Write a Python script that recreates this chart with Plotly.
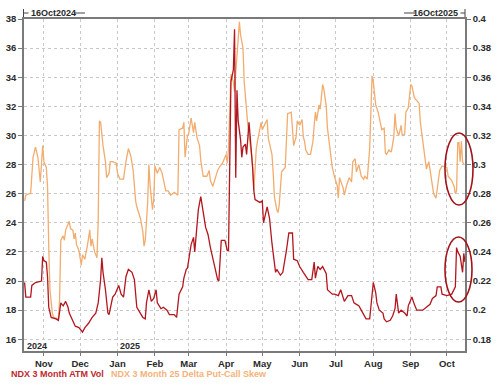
import plotly.graph_objects as go

# ---------------- data ----------------
vol_dates = [
    "2024-10-16", "2024-10-17", "2024-10-21", "2024-10-22", "2024-10-25", "2024-10-29", "2024-10-30",
    "2024-10-31", "2024-11-01", "2024-11-03", "2024-11-04", "2024-11-05", "2024-11-07", "2024-11-11",
    "2024-11-13", "2024-11-15", "2024-11-17", "2024-11-19", "2024-11-21", "2024-11-22", "2024-11-25",
    "2024-11-27", "2024-11-30", "2024-12-03", "2024-12-05", "2024-12-08", "2024-12-11", "2024-12-14",
    "2024-12-16", "2024-12-18", "2024-12-19", "2024-12-20", "2024-12-22", "2024-12-24", "2024-12-25",
    "2024-12-28", "2024-12-30", "2025-01-02", "2025-01-04", "2025-01-06", "2025-01-08", "2025-01-10",
    "2025-01-13", "2025-01-15", "2025-01-17", "2025-01-19", "2025-01-22", "2025-01-24", "2025-01-25",
    "2025-01-27", "2025-01-29", "2025-01-31", "2025-02-02", "2025-02-03", "2025-02-06", "2025-02-08",
    "2025-02-11", "2025-02-13", "2025-02-17", "2025-02-19", "2025-02-21", "2025-02-24", "2025-02-25",
    "2025-02-27", "2025-02-28", "2025-03-03", "2025-03-05", "2025-03-06", "2025-03-08", "2025-03-09",
    "2025-03-11", "2025-03-12", "2025-03-13", "2025-03-15", "2025-03-17", "2025-03-18", "2025-03-19",
    "2025-03-22", "2025-03-25", "2025-03-26", "2025-03-28", "2025-03-31", "2025-04-02", "2025-04-03",
    "2025-04-04", "2025-04-05", "2025-04-07", "2025-04-08", "2025-04-09", "2025-04-10", "2025-04-11",
    "2025-04-13", "2025-04-14", "2025-04-15", "2025-04-17", "2025-04-18", "2025-04-20", "2025-04-21",
    "2025-04-23", "2025-04-24", "2025-04-25", "2025-04-29", "2025-05-01", "2025-05-02", "2025-05-05",
    "2025-05-07", "2025-05-09", "2025-05-12", "2025-05-13", "2025-05-16", "2025-05-18", "2025-05-21",
    "2025-05-23", "2025-05-26", "2025-05-27", "2025-05-30", "2025-06-01", "2025-06-04", "2025-06-08",
    "2025-06-11", "2025-06-13", "2025-06-14", "2025-06-16", "2025-06-18", "2025-06-20", "2025-06-23",
    "2025-06-24", "2025-06-28", "2025-06-30", "2025-07-03", "2025-07-05", "2025-07-08", "2025-07-11",
    "2025-07-14", "2025-07-16", "2025-07-18", "2025-07-20", "2025-07-22", "2025-07-24", "2025-07-26",
    "2025-07-29", "2025-08-01", "2025-08-03", "2025-08-04", "2025-08-06", "2025-08-09", "2025-08-10",
    "2025-08-12", "2025-08-15", "2025-08-17", "2025-08-19", "2025-08-20", "2025-08-22", "2025-08-24",
    "2025-08-27", "2025-08-29", "2025-08-30", "2025-09-02", "2025-09-04", "2025-09-06", "2025-09-09",
    "2025-09-11", "2025-09-14", "2025-09-17", "2025-09-19", "2025-09-22", "2025-09-23", "2025-09-26",
    "2025-09-27", "2025-10-01", "2025-10-05", "2025-10-07", "2025-10-08", "2025-10-09", "2025-10-10",
    "2025-10-12", "2025-10-14", "2025-10-15", "2025-10-16",
]
vol_values = [
    19.9, 18.9, 18.9, 19.7, 19.9, 20.0, 20.0,
    21.7, 21.4, 21.3, 20.3, 18.2, 17.5, 17.4,
    17.3, 18.5, 18.3, 18.6, 18.2, 17.8, 17.3,
    16.9, 16.8, 16.5, 16.8, 17.1, 17.5, 17.8,
    18.5, 20.1, 21.6, 20.6, 19.4, 17.8, 17.7,
    18.9, 19.1, 19.7, 19.1, 18.9, 20.3, 20.8,
    20.6, 20.1, 18.2, 17.9, 17.5, 17.4, 18.5,
    19.4, 18.6, 18.8, 19.4, 18.5, 18.1, 18.2,
    18.0, 17.7, 17.7, 17.5, 19.1, 19.6, 20.2,
    20.8, 20.9, 22.5, 23.0, 22.0, 24.2, 24.9,
    25.8, 25.3, 24.9, 23.7, 23.2, 22.6, 22.3,
    21.2, 20.1, 20.0, 22.8, 22.8, 22.1, 22.1,
    30.2, 33.7, 34.5, 37.3, 27.1, 33.1, 31.0,
    29.7, 28.5, 29.2, 29.4, 28.7, 30.9, 30.0,
    27.8, 26.2, 25.6, 25.4, 25.5, 24.0, 25.1,
    24.3, 22.6, 20.6, 20.8, 20.4, 20.6, 22.1,
    23.3, 23.3, 21.5, 21.4, 21.0, 20.6, 20.1,
    20.1, 21.3, 20.2, 21.0, 20.8, 21.0, 20.5,
    19.4, 19.1, 19.1, 19.0, 19.4, 18.6, 19.0,
    19.0, 18.5, 18.4, 18.3, 18.0, 17.7, 17.4,
    17.4, 19.9, 19.2, 18.5, 18.0, 17.8, 17.4,
    17.2, 17.3, 17.6, 18.1, 19.1, 17.8, 18.0,
    17.8, 17.6, 18.3, 18.9, 18.4, 18.0, 18.0,
    18.0, 18.2, 18.4, 18.8, 19.0, 19.6, 19.6,
    19.1, 19.0, 19.1, 19.4, 19.6, 22.3, 22.0,
    21.7, 20.6, 21.9, 21.3,
]

skew_dates = [
    "2024-10-16", "2024-10-17", "2024-10-20", "2024-10-21", "2024-10-23", "2024-10-25", "2024-10-27",
    "2024-10-29", "2024-10-31", "2024-11-01", "2024-11-03", "2024-11-04", "2024-11-05", "2024-11-06",
    "2024-11-08", "2024-11-09", "2024-11-13", "2024-11-14", "2024-11-15", "2024-11-17", "2024-11-18",
    "2024-11-19", "2024-11-22", "2024-11-23", "2024-11-25", "2024-11-26", "2024-11-27", "2024-11-28",
    "2024-11-30", "2024-12-01", "2024-12-02", "2024-12-03", "2024-12-05", "2024-12-06", "2024-12-07",
    "2024-12-09", "2024-12-10", "2024-12-11", "2024-12-13", "2024-12-15", "2024-12-16", "2024-12-17",
    "2024-12-18", "2024-12-20", "2024-12-22", "2024-12-23", "2024-12-25", "2024-12-26", "2024-12-28",
    "2024-12-31", "2025-01-01", "2025-01-03", "2025-01-06", "2025-01-08", "2025-01-10", "2025-01-12",
    "2025-01-13", "2025-01-14", "2025-01-16", "2025-01-17", "2025-01-20", "2025-01-22", "2025-01-23",
    "2025-01-24", "2025-01-26", "2025-01-27", "2025-01-28", "2025-01-30", "2025-01-31", "2025-02-01",
    "2025-02-03", "2025-02-05", "2025-02-07", "2025-02-08", "2025-02-10", "2025-02-12", "2025-02-14",
    "2025-02-17", "2025-02-20", "2025-02-21", "2025-02-24", "2025-02-25", "2025-02-26", "2025-02-28",
    "2025-03-01", "2025-03-03", "2025-03-04", "2025-03-05", "2025-03-06", "2025-03-08", "2025-03-10",
    "2025-03-11", "2025-03-13", "2025-03-16", "2025-03-18", "2025-03-19", "2025-03-21", "2025-03-23",
    "2025-03-25", "2025-03-27", "2025-03-29", "2025-04-01", "2025-04-02", "2025-04-03", "2025-04-04",
    "2025-04-05", "2025-04-07", "2025-04-08", "2025-04-09", "2025-04-10", "2025-04-11", "2025-04-12",
    "2025-04-13", "2025-04-15", "2025-04-16", "2025-04-18", "2025-04-19", "2025-04-22", "2025-04-23",
    "2025-04-24", "2025-04-26", "2025-04-27", "2025-04-30", "2025-05-01", "2025-05-05", "2025-05-06",
    "2025-05-09", "2025-05-10", "2025-05-11", "2025-05-13", "2025-05-14", "2025-05-15", "2025-05-16",
    "2025-05-17", "2025-05-20", "2025-05-21", "2025-05-22", "2025-05-25", "2025-05-26", "2025-05-27",
    "2025-05-29", "2025-05-30", "2025-06-01", "2025-06-03", "2025-06-04", "2025-06-05", "2025-06-06",
    "2025-06-08", "2025-06-10", "2025-06-12", "2025-06-13", "2025-06-14", "2025-06-15", "2025-06-17",
    "2025-06-18", "2025-06-20", "2025-06-21", "2025-06-23", "2025-06-24", "2025-06-26", "2025-06-27",
    "2025-06-28", "2025-06-30", "2025-07-02", "2025-07-03", "2025-07-04", "2025-07-07", "2025-07-08",
    "2025-07-10", "2025-07-12", "2025-07-14", "2025-07-15", "2025-07-17", "2025-07-18", "2025-07-20",
    "2025-07-22", "2025-07-24", "2025-07-25", "2025-07-27", "2025-07-29", "2025-07-30", "2025-07-31",
    "2025-08-01", "2025-08-02", "2025-08-03", "2025-08-05", "2025-08-07", "2025-08-08", "2025-08-10",
    "2025-08-11", "2025-08-12", "2025-08-14", "2025-08-15", "2025-08-16", "2025-08-18", "2025-08-19",
    "2025-08-20", "2025-08-22", "2025-08-23", "2025-08-24", "2025-08-25", "2025-08-27", "2025-08-28",
    "2025-08-30", "2025-09-01", "2025-09-02", "2025-09-04", "2025-09-06", "2025-09-08", "2025-09-09",
    "2025-09-11", "2025-09-13", "2025-09-14", "2025-09-16", "2025-09-18", "2025-09-19", "2025-09-20",
    "2025-09-22", "2025-09-23", "2025-09-25", "2025-09-27", "2025-10-01", "2025-10-02", "2025-10-05",
    "2025-10-07", "2025-10-08", "2025-10-09", "2025-10-10", "2025-10-11", "2025-10-12", "2025-10-13",
    "2025-10-14", "2025-10-15",
]
skew_values = [
    0.275, 0.279, 0.280, 0.280, 0.305, 0.312, 0.305,
    0.288, 0.313, 0.302, 0.298, 0.285, 0.244, 0.214,
    0.198, 0.195, 0.194, 0.207, 0.248, 0.251, 0.248,
    0.255, 0.261, 0.256, 0.255, 0.249, 0.253, 0.245,
    0.241, 0.237, 0.231, 0.238, 0.235, 0.240, 0.244,
    0.255, 0.244, 0.249, 0.240, 0.236, 0.262, 0.330,
    0.329, 0.313, 0.302, 0.291, 0.294, 0.302, 0.302,
    0.301, 0.294, 0.290, 0.290, 0.302, 0.311, 0.306,
    0.299, 0.296, 0.275, 0.271, 0.263, 0.254, 0.244,
    0.248, 0.274, 0.300, 0.286, 0.269, 0.276, 0.299,
    0.294, 0.298, 0.294, 0.289, 0.282, 0.282, 0.279,
    0.281, 0.279, 0.324, 0.325, 0.329, 0.305, 0.320,
    0.321, 0.332, 0.326, 0.322, 0.329, 0.318, 0.313,
    0.303, 0.292, 0.292, 0.296, 0.289, 0.285, 0.290,
    0.296, 0.299, 0.301, 0.307, 0.301, 0.311, 0.336,
    0.362, 0.357, 0.350, 0.363, 0.375, 0.391, 0.398,
    0.389, 0.380, 0.357, 0.334, 0.327, 0.307, 0.298,
    0.282, 0.311, 0.316, 0.329, 0.324, 0.331, 0.318,
    0.307, 0.295, 0.278, 0.269, 0.267, 0.272, 0.282,
    0.295, 0.298, 0.316, 0.335, 0.336, 0.323, 0.313,
    0.319, 0.330, 0.327, 0.331, 0.319, 0.316, 0.310,
    0.307, 0.307, 0.316, 0.327, 0.336, 0.330, 0.341,
    0.338, 0.355, 0.352, 0.340, 0.325, 0.312, 0.305,
    0.298, 0.291, 0.286, 0.277, 0.291, 0.284, 0.279,
    0.286, 0.291, 0.288, 0.302, 0.304, 0.295, 0.300,
    0.292, 0.290, 0.292, 0.290, 0.311, 0.336, 0.361,
    0.357, 0.348, 0.341, 0.336, 0.327, 0.324, 0.325,
    0.308, 0.307, 0.310, 0.309, 0.309, 0.319, 0.335,
    0.325, 0.320, 0.323, 0.327, 0.320, 0.321, 0.336,
    0.339, 0.355, 0.354, 0.346, 0.344, 0.342, 0.329,
    0.316, 0.304, 0.297, 0.302, 0.292, 0.288, 0.280,
    0.277, 0.284, 0.296, 0.299, 0.298, 0.292, 0.289,
    0.285, 0.280, 0.282, 0.315, 0.315, 0.302, 0.316,
    0.302, 0.300,
]

month_ticks = ["2024-11-01", "2024-12-01", "2025-01-01", "2025-02-01", "2025-03-01", "2025-04-01",
               "2025-05-01", "2025-06-01", "2025-07-01", "2025-08-01", "2025-09-01", "2025-10-01"]
month_labels = ["Nov", "Dec", "Jan", "Feb", "Mar", "Apr", "May", "Jun", "Jul", "Aug", "Sep", "Oct"]
vol_ticks = [16, 18, 20, 22, 24, 26, 28, 30, 32, 34, 36, 38]
skew_ticks = [0.18, 0.2, 0.22, 0.24, 0.26, 0.28, 0.3, 0.32, 0.34, 0.36, 0.38, 0.4]
skew_tick_labels = ["0.18", "0.2", "0.22", "0.24", "0.26", "0.28", "0.3", "0.32", "0.34", "0.36", "0.38", "0.4"]

vol_name = "NDX 3 Month ATM Vol"
skew_name = "NDX 3 Month 25 Delta Put-Call Skew"
start_label = "16Oct2024"
end_label = "16Oct2025"

# ---------------- style ----------------
W, H = 500, 389
ML, MR, MT, MB = 24, 35, 19, 38
PW, PH = W - ML - MR, H - MT - MB
RED = "#b3161e"
ORANGE = "#f2ac6e"
AXIS = "#7a7a7a"
GRID = "#c8c8c8"
TXT = "#2a2a2a"
FONT = "Arial, Liberation Sans, sans-serif"


def px(x):
    return (x - ML) / PW


def py(y):
    return (H - MB - y) / PH


fig = go.Figure()
fig.add_trace(go.Scatter(x=skew_dates, y=skew_values, mode="lines", name=skew_name,
                         line=dict(color=ORANGE, width=1.3), yaxis="y"))
fig.add_trace(go.Scatter(x=vol_dates, y=vol_values, mode="lines", name=vol_name,
                         line=dict(color=RED, width=1.3), yaxis="y2"))

fig.update_layout(
    width=W, height=H,
    margin=dict(l=ML, r=MR, t=MT, b=MB, pad=0, autoexpand=False),
    paper_bgcolor="white", plot_bgcolor="white",
    showlegend=False,
    font=dict(family=FONT, size=10, color=TXT),
    xaxis=dict(
        type="date", range=["2024-10-15 12:00", "2025-10-16"], automargin=False,
        tickmode="array", tickvals=month_ticks, ticktext=month_labels,
        ticks="outside", ticklen=3, tickcolor=AXIS,
        showgrid=True, gridcolor=GRID, griddash="dot", gridwidth=1,
        showline=True, linecolor=AXIS, linewidth=1.5, mirror=True,
        tickfont=dict(family=FONT, size=9.5, color=TXT, weight="bold"),
        zeroline=False,
    ),
    yaxis=dict(
        side="right", range=[0.17195, 0.40], automargin=False,
        tickmode="array", tickvals=skew_ticks, ticktext=skew_tick_labels,
        ticks="outside", ticklen=4, tickcolor=AXIS,
        showgrid=False, zeroline=False,
        showline=True, linecolor=AXIS, linewidth=1.5,
        tickfont=dict(family=FONT, size=9.5, color=TXT, weight="bold"),
    ),
    yaxis2=dict(
        side="left", overlaying="y", range=[15.195, 38.0], automargin=False,
        tickmode="array", tickvals=vol_ticks,
        ticks="outside", ticklen=4, tickcolor=AXIS,
        showgrid=True, gridcolor=GRID, griddash="dot", gridwidth=1,
        zeroline=False,
        showline=True, linecolor=AXIS, linewidth=1.5,
        tickfont=dict(family=FONT, size=9.5, color=TXT, weight="bold"),
    ),
)

ann_font = dict(family=FONT, size=9, color=TXT, weight="bold")
annotations = [
    dict(x=px(25), y=py(346), text="2024", xanchor="left", yanchor="middle"),
    dict(x=px(117.5), y=py(346), text="2025", xanchor="left", yanchor="middle"),
    dict(x=px(29), y=py(13), text=start_label, xanchor="left", yanchor="middle"),
    dict(x=px(460), y=py(13), text=end_label, xanchor="right", yanchor="middle"),
]
for a in annotations:
    a.update(xref="paper", yref="paper", showarrow=False, font=ann_font)

annotations.append(dict(x=px(9), y=py(374), xref="paper", yref="paper", showarrow=False,
                        text=vol_name, xanchor="left", yanchor="middle",
                        font=dict(family=FONT, size=9, color="#c0282e", weight="bold")))
annotations.append(dict(x=px(109), y=py(374), xref="paper", yref="paper", showarrow=False,
                        text=skew_name, xanchor="left", yanchor="middle",
                        font=dict(family=FONT, size=9, color="#f5b27a", weight="bold")))
fig.update_layout(annotations=annotations)

shapes = []
# bracket lines around top labels
for (x0, x1) in [(23.5, 28.5), (74, 85), (404, 415), (460.5, 465)]:
    shapes.append(dict(type="line", xref="paper", yref="paper", x0=px(x0), x1=px(x1),
                       y0=py(13), y1=py(13), line=dict(color="#444", width=1)))
for xv in [23.5, 465]:
    shapes.append(dict(type="line", xref="paper", yref="paper", x0=px(xv), x1=px(xv),
                       y0=py(9), y1=py(17), line=dict(color="#444", width=1)))
# highlight ellipses
for (x0, x1, y0, y1) in [(445, 473, 133, 205), (445, 472, 237, 302)]:
    shapes.append(dict(type="circle", xref="paper", yref="paper", x0=px(x0), x1=px(x1),
                       y0=py(y1), y1=py(y0), line=dict(color="#a3121a", width=1.6)))
fig.update_layout(shapes=shapes)

fig.write_html("out.html", config={"displayModeBar": False},
               post_script="document.body.style.margin='0';document.body.style.overflow='hidden';")
